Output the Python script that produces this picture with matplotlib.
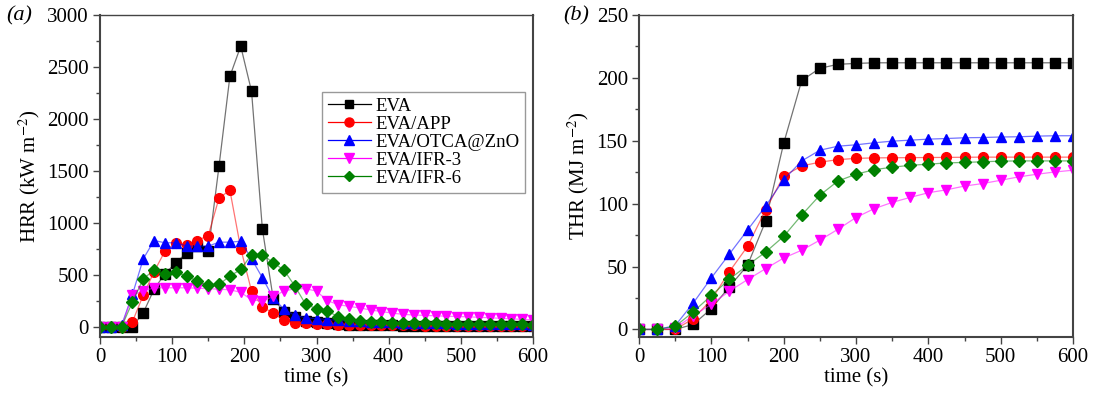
import matplotlib
matplotlib.use('Agg')
import matplotlib.pyplot as plt
from matplotlib.ticker import MultipleLocator
from matplotlib.lines import Line2D

plt.rcParams['font.family'] = ['Liberation Serif', 'DejaVu Serif']
plt.rcParams['mathtext.fontset'] = 'stix'
plt.rcParams['font.size'] = 15

# HRR data, one point every 15 s
t_hrr = list(range(0, 601, 15))
hrr_eva = [0, 0, 0, 0, 134, 360, 510, 612, 710, 775, 726, 1550, 2410, 2700, 2265,
           940, 270, 140, 90, 55, 40, 30, 25, 20, 18, 15, 14, 12, 10, 10, 9, 9, 8, 8,
           7, 7, 6, 6, 5, 5, 5]
hrr_app = [0, 0, 0, 48, 304, 530, 726, 807, 790, 829, 877, 1239, 1312, 752, 342,
           192, 128, 64, 38, 32, 25, 22, 20, 18, 16, 15, 14, 13, 12, 11, 10, 10, 9,
           8, 8, 7, 7, 6, 6, 5, 5]
hrr_otca = [0, 0, 15, 310, 653, 829, 807, 807, 775, 775, 775, 813, 813, 822, 653,
            470, 278, 166, 108, 86, 76, 68, 60, 55, 50, 46, 43, 40, 38, 36, 34, 32,
            30, 29, 27, 26, 25, 24, 22, 21, 20]
hrr_ifr3 = [0, 0, 0, 304, 342, 374, 374, 374, 374, 370, 365, 360, 355, 330, 258,
            245, 290, 342, 365, 365, 342, 250, 212, 195, 180, 160, 145, 130, 118,
            112, 108, 104, 100, 97, 94, 90, 85, 80, 75, 70, 65]
hrr_ifr6 = [0, 0, 0, 237, 461, 544, 509, 525, 486, 438, 397, 406, 486, 550, 694,
            694, 615, 544, 390, 214, 173, 150, 96, 75, 55, 48, 42, 38, 35, 33, 31,
            30, 29, 28, 27, 26, 25, 24, 23, 21, 20]

# THR data, one point every 25 s
t_thr = list(range(0, 601, 25))
thr_eva = [0, 0, 0, 4, 16.5, 34, 51, 86, 148, 198, 207.6, 210.8, 211.5, 212, 212,
           212, 212, 212, 212, 212, 212, 212, 212, 212, 212]
thr_app = [0, 0, 0, 8.5, 23.6, 46, 66, 95, 122, 130, 133, 135, 136, 136.4, 136.5,
           136.6, 136.7, 136.8, 136.9, 137, 137, 137, 137, 137, 137]
thr_otca = [0, 0, 3, 21, 41, 60, 79, 98, 119, 134, 142.5, 145.7, 146.8, 148.4, 149.7,
            150.5, 151.3, 151.8, 152.4, 152.6, 153, 153.2, 153.7, 154, 154]
thr_ifr3 = [0, 0, 1, 11, 20, 30.5, 39.6, 48.3, 56.8, 63, 71, 79.6, 89, 96, 101,
            105, 108.7, 111, 114, 116, 118.6, 121.3, 123.4, 125.2, 126.6]
thr_ifr6 = [0, 0, 2.4, 14, 27, 40, 51, 61.5, 74, 91, 106.7, 118, 123.4, 127, 129,
            130.5, 131.4, 132.4, 132.8, 133.3, 133.8, 134, 134, 134, 134]

labels = ['EVA', 'EVA/APP', 'EVA/OTCA@ZnO', 'EVA/IFR-3', 'EVA/IFR-6']
colors = ['black', 'red', 'blue', 'magenta', 'green']
markers = ['s', 'o', '^', 'v', 'D']
msizes = [6.5, 7, 7, 7, 6]

fig = plt.figure(figsize=(10.97, 3.94), dpi=100)
ax1 = fig.add_axes([100 / 1097, 1 - 337 / 394, 433 / 1097, 322 / 394])
ax2 = fig.add_axes([639 / 1097, 1 - 337 / 394, 434 / 1097, 322 / 394])

hrr = [hrr_eva, hrr_app, hrr_otca, hrr_ifr3, hrr_ifr6]
thr = [thr_eva, thr_app, thr_otca, thr_ifr3, thr_ifr6]

handles = []
for i in range(5):
    # thin, faded connecting lines, solid markers on top
    ax1.plot(t_hrr, hrr[i], color=colors[i], lw=0.9, alpha=0.55)
    ax1.plot(t_hrr, hrr[i], color=colors[i], marker=markers[i], ms=msizes[i], ls='none')
    ax2.plot(t_thr, thr[i], color=colors[i], lw=0.9, alpha=0.55)
    ax2.plot(t_thr, thr[i], color=colors[i], marker=markers[i], ms=msizes[i], ls='none')
    handles.append(Line2D([], [], color=colors[i], lw=0.9, marker=markers[i],
                          ms=msizes[i] - 0.5, label=labels[i]))

ax1.set_xlim(0, 600)
ax1.set_ylim(-100, 3000)
ax1.xaxis.set_major_locator(MultipleLocator(100))
ax1.xaxis.set_minor_locator(MultipleLocator(50))
ax1.yaxis.set_major_locator(MultipleLocator(500))
ax1.yaxis.set_minor_locator(MultipleLocator(250))
ax1.set_xlabel('time (s)', labelpad=1)
ax1.set_ylabel('HRR (kW m$^{-2}$)', labelpad=4)

ax2.set_xlim(0, 600)
ax2.set_ylim(-6, 250)
ax2.xaxis.set_major_locator(MultipleLocator(100))
ax2.xaxis.set_minor_locator(MultipleLocator(50))
ax2.yaxis.set_major_locator(MultipleLocator(50))
ax2.yaxis.set_minor_locator(MultipleLocator(25))
ax2.set_xlabel('time (s)', labelpad=1)
ax2.set_ylabel('THR (MJ m$^{-2}$)', labelpad=4)

for ax in (ax1, ax2):
    ax.tick_params(which='major', direction='out', length=5, width=1, color='#444444', pad=3)
    ax.tick_params(which='minor', direction='out', length=3, width=1, color='#444444')
    for s in ax.spines.values():
        s.set_color('#444444')
        s.set_linewidth(1.5)
    ax.spines['top'].set_linewidth(1.0)

ax1.legend(handles=handles, loc='upper left', bbox_to_anchor=(0.513, 0.761), fontsize=13.5,
           frameon=True, fancybox=False, edgecolor='#999999', framealpha=1,
           handlelength=2.3, labelspacing=0.05, borderpad=0.3, handletextpad=0.25,
           borderaxespad=0)

fig.text(6 / 1097, 1 - 16 / 394, '(a)', fontsize=16, style='italic', va='center')
fig.text(563 / 1097, 1 - 16 / 394, '(b)', fontsize=16, style='italic', va='center')

fig.savefig('out.png', dpi=100)
